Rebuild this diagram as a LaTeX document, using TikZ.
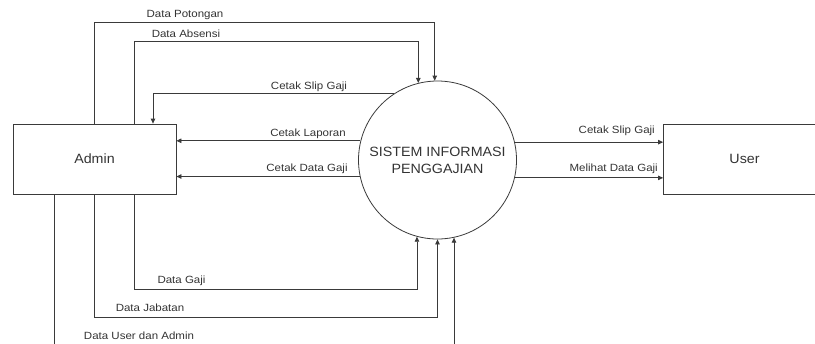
\documentclass[tikz,border=0pt]{standalone}
\usepackage{fontspec}
\setmainfont{Liberation Sans}
\newfontfamily\labfont[FakeStretch=1.1]{Liberation Sans}
\newfontfamily\bigfont[FakeStretch=1.06]{Liberation Sans}
\usetikzlibrary{arrows.meta,calc}
\definecolor{ln}{HTML}{3A3A3A}
\definecolor{tx}{HTML}{333333}
\tikzset{
  box/.style={draw=ln, line width=0.8bp, minimum width=163bp, minimum height=70bp, inner sep=0pt,
    font=\bigfont\fontsize{13.5}{16}\selectfont, text=tx},
  proc/.style={draw=ln, line width=0.8bp, circle, minimum size=158bp, inner sep=0pt, align=center,
    font=\bigfont\fontsize{13.5}{17}\selectfont, text=tx},
  arr/.style={draw=ln, line width=0.8bp, -{Triangle[length=5bp,width=4.5bp]}},
  lab/.style={font=\labfont\fontsize{10.5}{12}\selectfont, text=tx, inner sep=0pt},
}
\begin{document}
\begin{tikzpicture}[x=1bp,y=-1bp]
\useasboundingbox (0,0) rectangle (815,343);
\clip (0,0) rectangle (815,343);
\node[box] (admin) at (94.5,159) {Admin};
\node[box, minimum width=162bp] (user) at (744.5,159) {User};
\node[proc] (sis) at (437.5,160) {SISTEM INFORMASI\\PENGGAJIAN};

% top flows
\draw[arr] (admin.north) -- ++(0,-101) -| (sis.92.5);
\draw[arr] ([xshift=40bp]admin.north) -- ++(0,-82) -| (sis.104.3);
\draw[arr] (sis.123.3) -| ([xshift=58.5bp]admin.north);
% horizontal flows to admin
\draw[arr] (sis.166.8) -- (sis.166.8 -| admin.east);
\draw[arr] (sis.192.4) -- (sis.192.4 -| admin.east);
% flows to user
\draw[arr] (sis.13.2) -- (sis.13.2 -| user.west);
\draw[arr] (sis.-13.5) -- (sis.-13.5 -| user.west);
% bottom flows
\draw[arr] ([xshift=40bp]admin.south) -- ++(0,95) -| (sis.255.7);
\draw[arr] (admin.south) -- ++(0,123) -| (sis.south);
\draw[arr] ([xshift=-40.5bp]admin.south) -- ++(0,170) -| (sis.282.8);

% labels
\node[lab] (l1) at (185,15) {Data Potongan};
\node[lab] (l2) at (186,34) {Data Absensi};
\node[lab] (l3) at (309,87) {Cetak Slip Gaji};
\node[lab] (l4) at (308,134) {Cetak Laporan};
\node[lab] (l5) at (307,169) {Cetak Data Gaji};
\node[lab, anchor=east] (l6) at (655,131) {Cetak Slip Gaji};
\node[lab, anchor=east] (l7) at (658,169) {Melihat Data Gaji};
\node[lab] (l8) at (181.5,281) {Data Gaji};
\node[lab] (l9) at (150,308) {Data Jabatan};
\node[lab] (l10) at (139,336) {Data User dan Admin};
\end{tikzpicture}
\end{document}
